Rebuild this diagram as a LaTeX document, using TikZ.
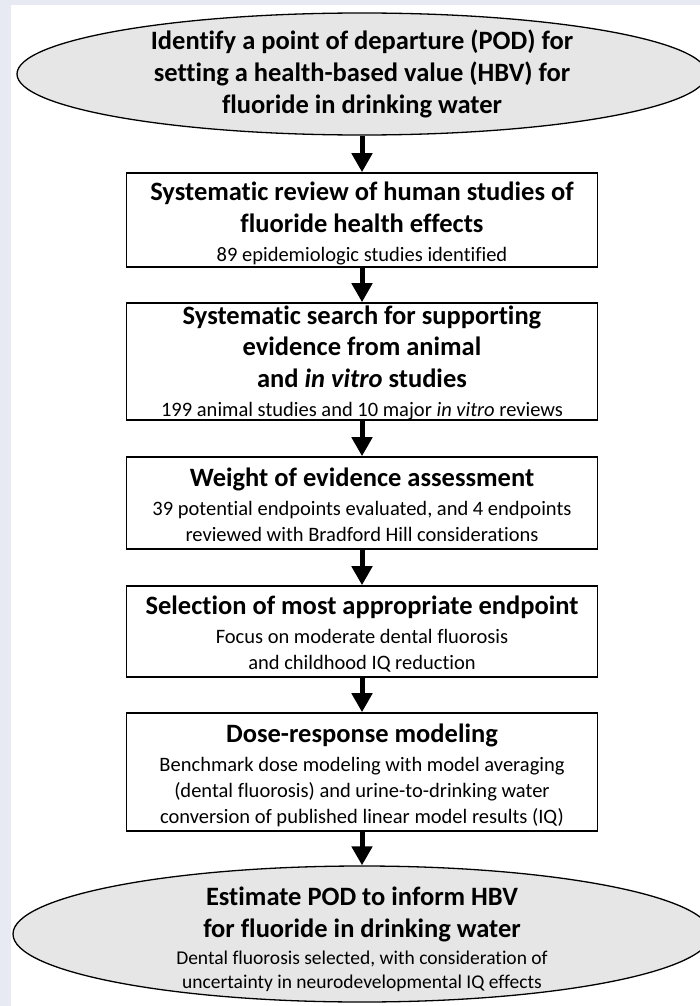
\documentclass[tikz,border=0pt]{standalone}
\usepackage{fontspec}
\setmainfont{Carlito}[Ligatures=CommonOff]
\usetikzlibrary{shapes.geometric, arrows.meta, positioning}
\definecolor{pagetint}{HTML}{E7EAF3}
\definecolor{ovalgray}{HTML}{E6E6E6}
\newcommand{\stephead}[1]{{\fontsize{26.5}{28}\selectfont\bfseries #1}}

\tikzset{
  stepbox/.style={draw=black, line width=1.6pt, fill=white, minimum width=471pt, inner sep=0pt},
  steptext/.style={align=center, inner sep=0pt, yshift=-3pt, font=\fontsize{20.5}{26}\selectfont},
  podoval/.style={ellipse, draw=black, line width=1.3pt, fill=ovalgray, inner sep=0pt},
  ovaltext/.style={align=center, inner sep=0pt, font=\fontsize{19.5}{25}\selectfont},
  flowarrow/.style={line width=5pt, -{Triangle[width=20pt, length=19pt]}}
}

\begin{document}
\begin{tikzpicture}[x=1pt, y=-1pt]
  % Page background
  \useasboundingbox (0,0) rectangle (700,1006);
  \fill[pagetint] (0,0) rectangle (700,1006);
  \fill[white] (11,5) rectangle (700,1006);

  % Start oval
  \node[podoval, minimum width=690pt, minimum height=122pt,
    label={[ovaltext]center:{\stephead{Identify a point of departure (POD) for}\\[7pt]
      \stephead{setting a health-based value (HBV) for}\\[7pt]
      \stephead{fluoride in drinking water}}}] (pod) at (362,74) {};

  % Steps
  \node[stepbox, minimum height=94pt,
    label={[steptext]center:{\stephead{Systematic review of human studies of}\\[6pt]
      \stephead{fluoride health effects}\\[3pt]
      89 epidemiologic studies identified}}] (human) at (362,220) {};

  \node[stepbox, minimum height=117pt,
    label={[steptext, yshift=1.5pt]center:{\stephead{Systematic search for supporting}\\[5pt]
      \stephead{evidence from animal}\\[6pt]
      \stephead{and \textit{in vitro} studies}\\[3pt]
      199 animal studies and 10 major \textit{in vitro} reviews}}] (animal) at (362,361.5) {};

  \node[stepbox, minimum height=92pt,
    label={[steptext, yshift=1pt]center:{\stephead{Weight of evidence assessment}\\[3pt]
      39 potential endpoints evaluated, and 4 endpoints\\
      reviewed with Bradford Hill considerations}}] (weight) at (362,503) {};

  \node[stepbox, minimum height=91pt,
    label={[steptext]center:{\stephead{Selection of most appropriate endpoint}\\[3pt]
      Focus on moderate dental fluorosis\\
      and childhood IQ reduction}}] (select) at (362,631.5) {};

  \node[stepbox, minimum height=118pt,
    label={[steptext]center:{\stephead{Dose-response modeling}\\[3pt]
      Benchmark dose modeling with model averaging\\
      (dental fluorosis) and urine-to-drinking water\\
      conversion of published linear model results (IQ)}}] (dose) at (362,772) {};

  % End oval
  \node[podoval, minimum width=698pt, minimum height=136pt,
    label={[ovaltext, yshift=-5pt]center:{\stephead{Estimate POD to inform HBV}\\[7pt]
      \stephead{for fluoride in drinking water}\\[2pt]
      Dental fluorosis selected, with consideration of\\[-1pt]
      uncertainty in neurodevelopmental IQ effects}}] (hbv) at (362,934) {};

  % Connectors
  \draw[flowarrow] (pod.south) -- (human.north);
  \draw[flowarrow] (human.south) -- (animal.north);
  \draw[flowarrow] (animal.south) -- (weight.north);
  \draw[flowarrow] (weight.south) -- (select.north);
  \draw[flowarrow] (select.south) -- (dose.north);
  \draw[flowarrow] (dose.south) -- (hbv.north);
\end{tikzpicture}
\end{document}
